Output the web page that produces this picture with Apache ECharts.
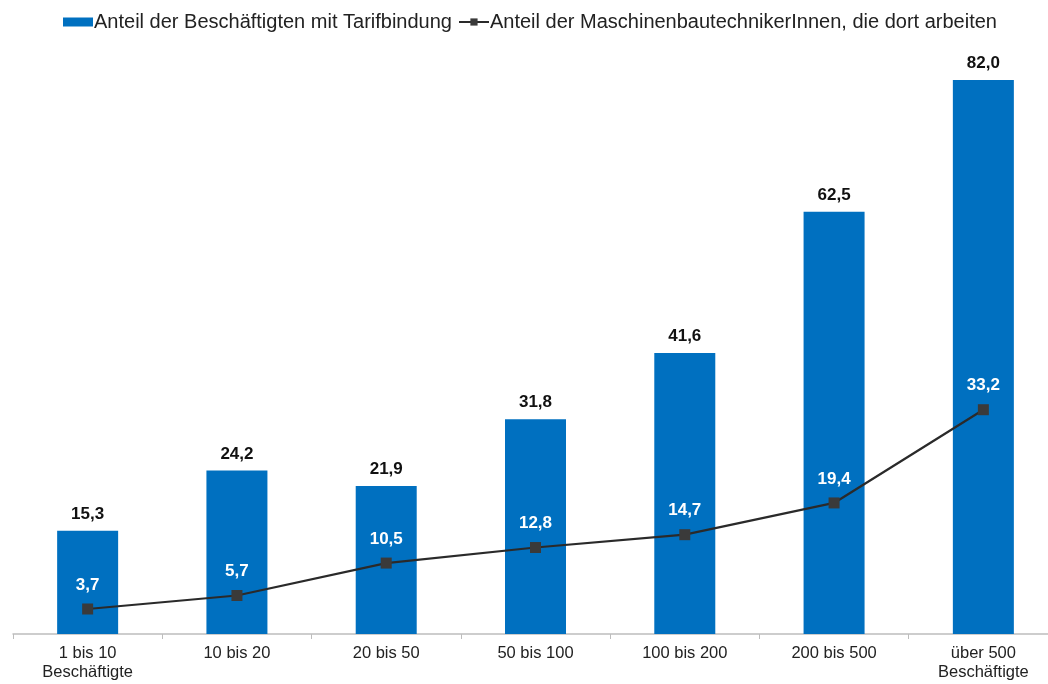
<!DOCTYPE html>
<html>
<head>
<meta charset="utf-8">
<script src="https://cdn.jsdelivr.net/npm/echarts@6/dist/echarts.min.js"></script>
<style>
  html, body { margin: 0; padding: 0; background: #fff; }
  #chart { width: 1048px; height: 684px; }
</style>
</head>
<body>
<div id="chart"></div>
<script>
const categories = ["1 bis 10\nBeschäftigte", "10 bis 20", "20 bis 50", "50 bis 100", "100 bis 200", "200 bis 500", "über 500\nBeschäftigte"];
const tarifValues = [15.3, 24.2, 21.9, 31.8, 41.6, 62.5, 82.0];
const technikerValues = [3.7, 5.7, 10.5, 12.8, 14.7, 19.4, 33.2];

// Zahlen mit Komma
const fmt = p => p.value.toFixed(1).replace(".", ",");

let myChart = echarts.init(document.getElementById("chart"));
myChart.setOption({
  animation: false,
  textStyle: { fontFamily: "Liberation Sans, Arial, sans-serif" },
  legend: {
    top: 7,
    left: 58,
    itemGap: 6,
    itemWidth: 30,
    itemHeight: 9,
    textStyle: { fontSize: 20, color: "#222", padding: [0, 0, 0, -4] },
    data: [
      { name: "Anteil der Beschäftigten mit Tarifbindung", icon: "rect" },
      { name: "Anteil der MaschinenbautechnikerInnen, die dort arbeiten" }
    ]
  },
  grid: { left: 13, width: 1045, top: 26, bottom: 50, outerBoundsMode: "none" },
  xAxis: {
    type: "category",
    data: categories,
    axisLine: { lineStyle: { color: "#bdbdbd", width: 1.5 } },
    axisTick: { show: true, length: 5, lineStyle: { color: "#bdbdbd" } },
    axisLabel: { color: "#222", fontSize: 16.5, lineHeight: 19, margin: 10 }
  },
  yAxis: {
    type: "value",
    min: 0,
    max: 90,
    show: false,
    splitLine: { show: false }
  },
  series: [
    {
      name: "Anteil der Beschäftigten mit Tarifbindung",
      type: "bar",
      barWidth: 61,
      itemStyle: { color: "#0070C0" },
      label: {
        show: true,
        position: "top",
        distance: 8,
        color: "#111",
        fontSize: 17,
        fontWeight: "bold",
        formatter: fmt
      },
      data: tarifValues
    },
    {
      name: "Anteil der MaschinenbautechnikerInnen, die dort arbeiten",
      type: "line",
      symbol: "rect",
      symbolSize: 11,
      itemStyle: { color: "#3a3a3a" },
      lineStyle: { color: "#2a2a2a", width: 2.2 },
      label: {
        show: true,
        position: "top",
        distance: 10,
        color: "#fff",
        fontSize: 17,
        fontWeight: "bold",
        formatter: fmt
      },
      data: technikerValues
    }
  ]
});
</script>
</body>
</html>
